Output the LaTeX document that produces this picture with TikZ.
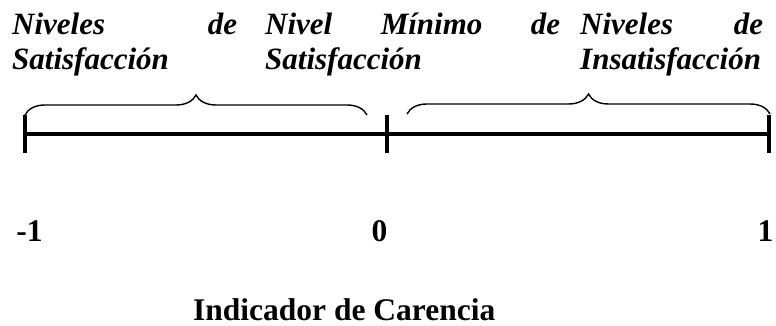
\documentclass[tikz,border=0pt]{standalone}
\usepackage{fontspec}
\setmainfont{Liberation Serif}
\usetikzlibrary{decorations.pathreplacing}

\begin{document}
\begin{tikzpicture}[x=1pt,y=1pt,
  escala/.style={line width=4pt},
  llave/.style={decorate,decoration={brace,amplitude=20pt},line width=1.4pt},
  rotulo/.style={inner sep=0pt,anchor=base west,align=justify,font=\fontsize{31}{35}\selectfont\bfseries\itshape},
  valor/.style={inner sep=0pt,anchor=base,font=\fontsize{31.5}{35}\selectfont\bfseries}]
\useasboundingbox (0,0) rectangle (776,326);
% escala de -1 a 1
\coordinate (menos) at (25,191.5);
\coordinate (cero) at (387,191.5);
\coordinate (mas) at (769,191.5);
\draw[escala] (menos)--(mas);
\foreach \p in {menos,cero,mas}
  \draw[escala] ([yshift=-19pt]\p)--([yshift=19pt]\p);
% llaves
\coordinate (izqA) at (25,211);
\coordinate (izqB) at (367,211);
\coordinate (derA) at (407,212);
\coordinate (derB) at (770,212);
\draw[llave] (izqA)--(izqB);
\draw[llave] (derA)--(derB);
% rotulos
\node[rotulo,text width=225pt] (sat) at (12,291) {Niveles de\linebreak Satisfacción};
\node[rotulo,text width=295pt] (min) at (265,291) {Nivel Mínimo de\linebreak Satisfacción};
\node[rotulo,text width=183pt] (insat) at (580,291) {Niveles de\linebreak Insatisfacción};
% valores
\node[valor] (vmenos) at (29.5,84) {-1};
\node[valor] (vcero) at (379.5,84) {0};
\node[valor] (vmas) at (765.5,84) {1};
\node[valor,anchor=base west] (titulo) at (193,5) {Indicador de Carencia};
\end{tikzpicture}
\end{document}
